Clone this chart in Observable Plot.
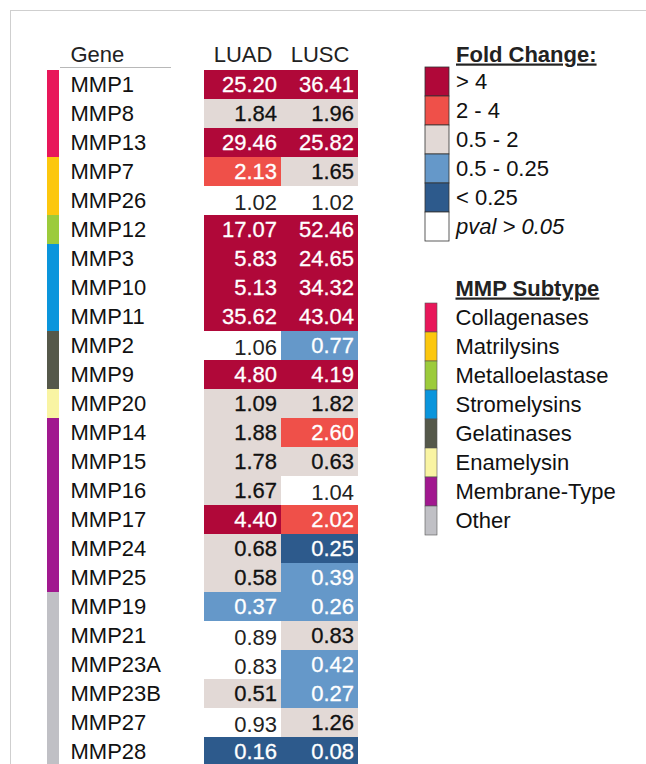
<!DOCTYPE html>
<html><head><meta charset="utf-8">
<script src="https://cdn.jsdelivr.net/npm/d3@7"></script>
<script src="https://cdn.jsdelivr.net/npm/@observablehq/plot@0.6"></script>
<style>
html,body{margin:0;padding:0;background:#fff;overflow:hidden}
#chart{position:relative;width:646px;height:764px;overflow:hidden;background:#fff}
#chart svg{position:absolute;left:0;top:0}
.border{position:absolute;left:10px;top:10px;width:640px;height:800px;border-top:1px solid #cfcfcf;border-left:1px solid #cfcfcf}
.hline{position:absolute;left:60px;top:67px;width:111px;border-top:1px solid #b8b8b8}
</style></head><body>
<div id="chart"><div class="border"></div><div class="hline"></div></div>
<script>
const genes = ["MMP1","MMP8","MMP13","MMP7","MMP26","MMP12","MMP3","MMP10","MMP11","MMP2","MMP9","MMP20","MMP14","MMP15","MMP16","MMP17","MMP24","MMP25","MMP19","MMP21","MMP23A","MMP23B","MMP27","MMP28"];
const geneSubtype = ["Collagenases","Collagenases","Collagenases","Matrilysins","Matrilysins","Metalloelastase","Stromelysins","Stromelysins","Stromelysins","Gelatinases","Gelatinases","Enamelysin","Membrane-Type","Membrane-Type","Membrane-Type","Membrane-Type","Membrane-Type","Membrane-Type","Other","Other","Other","Other","Other","Other"];
const columns = ["LUAD","LUSC"];
const luad = [25.20,1.84,29.46,2.13,1.02,17.07,5.83,5.13,35.62,1.06,4.80,1.09,1.88,1.78,1.67,4.40,0.68,0.58,0.37,0.89,0.83,0.51,0.93,0.16];
const lusc = [36.41,1.96,25.82,1.65,1.02,52.46,24.65,34.32,43.04,0.77,4.19,1.82,2.60,0.63,1.04,2.02,0.25,0.39,0.26,0.83,0.42,0.27,1.26,0.08];
const foldLabels = ["> 4","2 - 4","0.5 - 2","0.5 - 0.25","< 0.25","pval > 0.05"];
const foldColors = ["#b00839","#ef5049","#e2d9d6","#6598c9","#2d5a8c","#ffffff"];
const luadClass = ["> 4","0.5 - 2","> 4","2 - 4","pval > 0.05","> 4","> 4","> 4","> 4","pval > 0.05","> 4","0.5 - 2","0.5 - 2","0.5 - 2","0.5 - 2","> 4","0.5 - 2","0.5 - 2","0.5 - 0.25","pval > 0.05","pval > 0.05","0.5 - 2","pval > 0.05","< 0.25"];
const luscClass = ["> 4","0.5 - 2","> 4","0.5 - 2","pval > 0.05","> 4","> 4","> 4","> 4","0.5 - 0.25","> 4","0.5 - 2","2 - 4","0.5 - 2","pval > 0.05","2 - 4","< 0.25","0.5 - 0.25","0.5 - 0.25","0.5 - 2","0.5 - 0.25","0.5 - 0.25","0.5 - 2","< 0.25"];
const subtypeNames = ["Collagenases","Matrilysins","Metalloelastase","Stromelysins","Gelatinases","Enamelysin","Membrane-Type","Other"];
const subtypeColors = ["#e8175a","#fcc70e","#9ccb3b","#0a95dc","#55584a","#f9f4a3","#a1188f","#c0c0c5"];
const lightText = ["> 4","2 - 4","0.5 - 0.25","< 0.25"];

const W = 646, H = 780, ROW = 29.2, TOP = 68;
const FONT = "'Liberation Sans', Arial, Helvetica, sans-serif";
const FS = 22;
const INK = "#111";

const rows = genes.map((g, i) => ({gene: g, subtype: geneSubtype[i]}));
const cells = genes.flatMap((g, i) => [
  {gene: g, col: "LUAD", value: luad[i], cls: luadClass[i]},
  {gene: g, col: "LUSC", value: lusc[i], cls: luscClass[i]}
]);
const yGene = {type: "band", domain: genes, range: [TOP, TOP + genes.length * ROW], padding: 0, axis: null};
const style = {background: "transparent", fontFamily: FONT, overflow: "visible"};
const chart = document.getElementById("chart");
function add(svg) { chart.appendChild(svg); return svg; }

// heatmap
add(Plot.plot({
  width: W, height: H, margin: 0, style,
  x: {type: "band", domain: columns, range: [204, 358], padding: 0, axis: null},
  y: yGene,
  color: {type: "ordinal", domain: foldLabels, range: foldColors},
  marks: [
    Plot.cell(cells, {x: "col", y: "gene", fill: "cls"}),
    Plot.text(cells, {filter: d => lightText.includes(d.cls), x: "col", y: "gene", text: d => d.value.toFixed(2),
      fill: "white", stroke: "white", strokeWidth: 0.3, textAnchor: "end", dx: 34, fontSize: FS}),
    Plot.text(cells, {filter: d => d.cls === "0.5 - 2", x: "col", y: "gene", text: d => d.value.toFixed(2),
      fill: INK, stroke: INK, strokeWidth: 0.3, textAnchor: "end", dx: 34, fontSize: FS}),
    Plot.text(cells, {filter: d => d.cls === "pval > 0.05", x: "col", y: "gene", text: d => d.value.toFixed(2),
      fill: "#222", textAnchor: "end", dx: 34, dy: 1.5, fontSize: FS}),
    Plot.text(columns, {x: d => d, text: d => d, frameAnchor: "top", dy: 61, lineAnchor: "bottom", fontSize: FS, fill: "#222"})
  ]
}));

// subtype strip + gene names
add(Plot.plot({
  width: W, height: H, margin: 0, style,
  x: {type: "band", domain: ["subtype"], range: [47, 59], padding: 0, axis: null},
  y: yGene,
  color: {type: "ordinal", domain: subtypeNames, range: subtypeColors},
  marks: [
    Plot.cell(rows, {x: () => "subtype", y: "gene", fill: "subtype"}),
    Plot.text(rows, {x: () => "subtype", y: "gene", text: "gene", textAnchor: "start", dx: 17, fontSize: FS, fill: INK}),
    Plot.text(["Gene"], {x: () => "subtype", text: d => d, frameAnchor: "top", dy: 61, dx: 17, lineAnchor: "bottom", textAnchor: "start", fontSize: FS, fill: "#222"})
  ]
}));

// fold change legend
add(Plot.plot({
  width: W, height: H, margin: 0, style,
  x: {type: "band", domain: ["sw"], range: [424.5, 448.5], padding: 0, axis: null},
  y: {type: "band", domain: foldLabels, range: [66.8, 66.8 + foldLabels.length * ROW], padding: 0, axis: null},
  color: {type: "ordinal", domain: foldLabels, range: foldColors},
  marks: [
    Plot.cell(foldLabels, {x: () => "sw", y: d => d, fill: d => d, stroke: "#333", strokeWidth: 0.8}),
    Plot.text(foldLabels, {filter: d => d !== "pval > 0.05", x: () => "sw", y: d => d, text: d => d, textAnchor: "start", dx: 18.5, fontSize: FS, fill: INK}),
    Plot.text(foldLabels, {filter: d => d === "pval > 0.05", x: () => "sw", y: d => d, text: d => d, textAnchor: "start", dx: 18.5, fontSize: FS, fill: INK, fontStyle: "italic"}),
    Plot.text(["Fold Change:"], {x: () => "sw", text: d => d, frameAnchor: "top", dy: 61, dx: 18.5, lineAnchor: "bottom", textAnchor: "start", fontSize: FS, fontWeight: "bold", fill: "#222"})
  ]
}));

// subtype legend
add(Plot.plot({
  width: W, height: H, margin: 0, style,
  x: {type: "band", domain: ["sw"], range: [425, 437], padding: 0, axis: null},
  y: {type: "band", domain: subtypeNames, range: [302, 302 + subtypeNames.length * ROW], padding: 0, axis: null},
  color: {type: "ordinal", domain: subtypeNames, range: subtypeColors},
  marks: [
    Plot.cell(subtypeNames, {x: () => "sw", y: d => d, fill: d => d, stroke: "#555", strokeWidth: 0.6}),
    Plot.text(subtypeNames, {x: () => "sw", y: d => d, text: d => d, textAnchor: "start", dx: 24, fontSize: FS, fill: INK}),
    Plot.text(["MMP Subtype"], {x: () => "sw", text: d => d, frameAnchor: "top", dy: 295, dx: 24, lineAnchor: "bottom", textAnchor: "start", fontSize: FS, fontWeight: "bold", fill: "#222"})
  ]
}));

d3.select(chart).selectAll("text").filter(function() {
  return this.textContent === "Fold Change:" || this.textContent === "MMP Subtype";
}).style("text-decoration", "underline");
</script>
</body></html>
